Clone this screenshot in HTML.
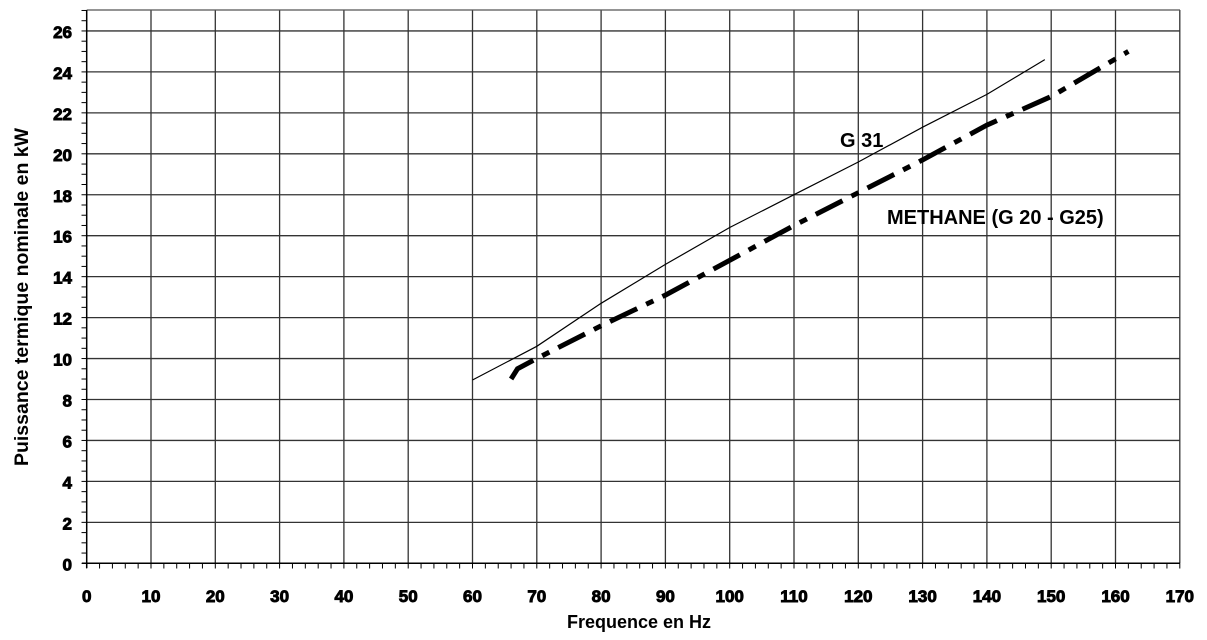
<!DOCTYPE html>
<html><head><meta charset="utf-8"><style>body{margin:0;background:#fff}svg{display:block}text{font-family:"Liberation Sans",Arial,sans-serif;font-weight:bold;fill:#000}.t{stroke:#000;stroke-width:0.9}</style></head>
<body>
<svg id="s" width="1207" height="640" xmlns="http://www.w3.org/2000/svg"></svg>
<script>
var s=document.getElementById('s'),h='';
function X(f){return 86.7+f*6.43}function Y(v){return 563.3-v*20.475}
for(var f=10;f<=170;f+=10)h+='<line x1="'+X(f)+'" y1="10" x2="'+X(f)+'" y2="563.3" stroke="#333" stroke-width="1.3"/>';
for(var v=2;v<=26;v+=2)h+='<line x1="86.7" y1="'+Y(v)+'" x2="1180" y2="'+Y(v)+'" stroke="#333" stroke-width="1.3"/>';
h+='<line x1="86.7" y1="10" x2="1180" y2="10" stroke="#555" stroke-width="1.3"/>';
h+='<line x1="86.7" y1="10" x2="86.7" y2="568" stroke="#000" stroke-width="1.5"/>';
h+='<line x1="82" y1="563.3" x2="1180" y2="563.3" stroke="#000" stroke-width="1.5"/>';
for(var f=0;f<=170;f+=2)h+='<line x1="'+X(f)+'" y1="563.3" x2="'+X(f)+'" y2="568.5" stroke="#000" stroke-width="1"/>';
for(var v=0;v<=27;v+=0.5)h+='<line x1="81.5" y1="'+Y(v)+'" x2="86.7" y2="'+Y(v)+'" stroke="#000" stroke-width="1"/>';
for(var f=0;f<=170;f+=10)h+='<text class="t" x="'+X(f)+'" y="602" font-size="17" text-anchor="middle">'+f+'</text>';
for(var v=0;v<=26;v+=2)h+='<text class="t" x="72" y="'+(Y(v)+7)+'" font-size="17" text-anchor="end">'+v+'</text>';
function pl(p){return p.map(function(q){return X(q[0]).toFixed(1)+','+Y(q[1]).toFixed(1)}).join(' ')}
h+='<polyline fill="none" stroke="#000" stroke-width="1.2" points="'+pl([[60,8.95],[70,10.6],[80,12.7],[90,14.6],[100,16.4],[110,18.0],[120,19.6],[130,21.3],[140,22.9],[149,24.6]])+'"/>';
h+='<polyline fill="none" stroke="#000" stroke-width="5" stroke-dasharray="30,10,8,10" points="'+pl([[66,9.0],[67,9.5],[70,10.0],[80,11.6],[90,13.1],[100,14.8],[110,16.5],[120,18.1],[130,19.7],[140,21.4],[150,22.8],[162,25]])+'"/>';
h+='<text x="840" y="147" font-size="20">G 31</text>';
h+='<text x="887" y="224" font-size="20">METHANE (G 20 - G25)</text>';
h+='<text x="639" y="628" font-size="18" text-anchor="middle">Frequence en Hz</text>';
h+='<text transform="translate(28,297) rotate(-90)" font-size="19.5" text-anchor="middle">Puissance termique nominale en kW</text>';
s.innerHTML=h;
</script>
</body></html>
